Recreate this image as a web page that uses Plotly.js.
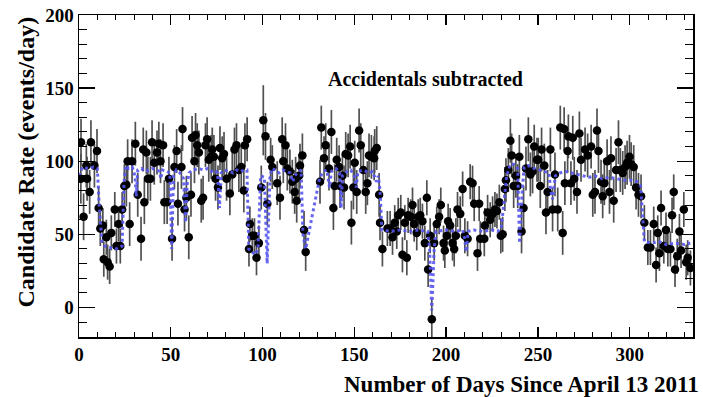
<!DOCTYPE html>
<html>
<head>
<meta charset="utf-8">
<script src="https://cdn.plot.ly/plotly-3.0.1.min.js"></script>
<style>html,body{margin:0;padding:0;background:#fff;}#chart{width:703px;height:397px;}</style>
</head>
<body>
<div id="chart"></div>
<script>
// Daily candidate rate (accidentals subtracted)
const days = [
1.0,1.1,2.5,4.0,4.4,5.8,6.5,8.4,9.8,10.7,
11.6,13.0,13.5,14.9,15.6,16.7,17.6,19.5,20.4,21.6,22.5,23.5,
24.7,25.8,26.5,27.6,28.9,30.7,32.0,33.8,35.0,35.6,36.7,37.5,38.9,39.8,41.0,42.5,43.5,44.4,45.8,46.5,48.0,49.0,50.7,52.0,53.2,53.9,
55.8,56.4,57.5,58.5,59.8,61.0,61.6,62.9,63.5,64.4,65.3,66.6,67.6,68.9,69.8,70.7,72.0,72.6,73.5,74.4,75.7,76.8,78.0,79.0,80.4,82.2,83.5,84.7,85.8,87.1,88.4,89.8,90.4,91.6,
92.6,93.1,94.4,95.6,96.7,98.0,
99.3,100.4,101.6,102.6,104.4,105.3,108.0,109.5,110.7,111.3,112.5,113.5,114.9,116.2,117.5,118.0,118.6,119.9,120.4,121.7,
122.6,123.5,
131.3,132.0,133.5,134.4,136.2,137.5,138.6,139.3,140.4,141.7,142.2,143.5,144.4,145.3,146.6,147.7,148.4,149.5,150.2,151.3,152.6,153.5,154.9,156.2,157.1,158.0,159.3,160.8,161.1,162.2,163.5,
164.0,165.3,168.0,169.5,170.8,172.0,173.1,173.9,175.3,176.2,177.5,178.6,179.3,180.7,181.7,182.6,184.0,184.8,185.9,187.1,188.4,189.5,190.2,191.3,192.2,193.5,194.9,196.2,197.1,198.6,199.3,200.4,201.1,202.2,203.5,204.4,205.3,206.2,207.7,209.0,210.2,211.7,213.1,214.4,215.3,217.1,218.0,218.6,
220.8,221.1,222.6,224.0,225.3,226.6,227.7,229.0,229.8,230.8,
232.0,232.6,233.9,235.0,235.7,236.8,238.0,239.0,239.9,241.1,242.2,243.5,244.8,245.9,247.1,248.0,249.5,250.2,251.3,252.0,253.5,254.4,255.3,256.8,258.0,259.3,260.8,262.2,263.5,264.3,264.7,266.2,266.6,268.0,269.0,269.8,271.3,272.6,273.5,
275.7,277.1,279.0,279.9,281.1,282.2,283.0,284.4,285.3,286.2,287.7,289.0,289.8,291.3,292.6,293.9,294.9,296.2,297.5,298.6,299.9,300.8,302.2,303.5,304.8,306.2,
308.0,309.9,311.3,313.1,314.4,315.3,316.2,317.1,318.6,319.8,320.8,322.2,323.1,324.0,324.7,325.9,327.1,328.0,329.5,330.8,331.6,333.1
];
const rates = [
88,113,62,97,88,79,113,97,107,68,
54,56,33,48,31,28,51,67,42,57,42,67,
83,84,100,57,100,112,77,47,108,72,106,88,88,113,99,106,112,100,111,72,72,88,47,96,107,71,
96,122,67,75,48,77,116,100,118,111,106,73,75,111,115,101,103,108,103,88,82,109,102,105,88,78,91,108,111,94,96,80,111,115,
40,57,49,49,34,44,
82,128,117,71,101,96,85,75,115,100,111,95,93,86,79,88,73,90,97,104,
53,38,
86,123,102,111,95,120,68,83,101,96,83,90,82,105,104,110,58,82,99,79,121,111,94,79,85,104,103,102,107,109,77,
58,40,54,54,48,58,52,63,65,36,58,34,63,62,70,57,51,62,63,59,44,75,26,49,-8,44,57,62,70,44,39,49,59,56,44,40,49,67,64,81,49,47,86,85,71,37,71,47,
47,56,65,60,64,67,66,72,49,50,
81,87,94,114,104,83,90,83,103,52,68,95,115,91,93,110,101,101,83,108,97,65,79,108,67,91,67,123,51,122,85,107,117,85,116,88,79,119,101,
108,104,110,77,79,121,107,86,76,85,100,79,102,73,94,113,94,92,96,99,103,98,96,82,77,76,
58,41,41,57,29,51,37,68,42,53,40,40,63,79,26,35,52,39,67,31,34,27
];
const rateErrors = [
17,16,16,15,15,15,15,15,15,15,
12,12,12,12,12,12,12,12,12,12,12,12,
15,15,15,15,15,15,15,15,15,15,15,15,15,15,15,15,15,15,15,15,15,15,15,15,15,15,
15,15,15,15,15,15,15,15,15,15,15,15,15,15,15,15,15,15,15,15,15,15,15,15,15,15,15,15,15,15,15,15,15,15,
12,12,12,12,12,12,
15,24,16,15,15,15,15,15,15,15,15,15,15,15,15,15,15,15,15,15,
13,13,
15,15,15,15,15,15,15,15,15,15,15,15,15,15,15,15,15,15,15,15,15,15,15,15,15,15,15,15,15,15,15,
12,12,12,12,12,12,12,12,12,12,12,12,12,12,12,12,12,12,12,12,12,12,12,12,14,12,12,12,12,12,12,12,12,12,12,12,12,12,12,12,12,12,12,12,12,12,12,12,
12,12,12,12,12,12,12,12,12,12,
15,15,15,15,15,15,15,15,15,15,15,15,15,15,15,15,15,15,15,15,15,15,15,15,15,15,15,15,15,15,15,15,15,15,15,15,15,15,15,
15,15,15,15,15,15,15,15,15,15,15,15,15,15,15,15,15,15,15,15,15,15,15,15,15,15,
12,12,12,12,12,12,12,12,12,12,12,12,12,12,12,12,12,12,12,12,12,12
];
// Expected rate (blue dashed curve)
const expDays = [0,2,5,8,10,11,12.5,14,17,20,22,23.5,24.5,25.5,27,29,30.5,31.2,32,34,36,38,40,42,44,44.5,45.5,48,49.5,50.5,51.5,53,55,57,58,59,60,62,65,68,70,72,74,75.5,76.5,77.5,79,82,84,86,88,90,91.5,92.5,94,96,97.5,99,101,102.5,104,105,107,109,111,113,115,116.5,117.5,119,121,122,123.5,131,133,135,136.5,137.5,140,142,142.8,143.5,146,148,150,151,152,155,158,160,162,163,164,165,170,175,180,185,190,191,192.2,193.5,194.5,200,205,209,210,211,212,215,220,225,228,230,231.5,233,235,237,239,240,241.5,242.5,245,248,251,254,256,257,258,259.5,262,265,268,272,275,278,281,285,289,293,297,301,304,306,307,308,312,316,320,325,330,333];
const expRates = [90,96,95,96,95,70,45,42,41,40,41,42,85,97,95,96,90,76,94,95,93,94,95,94,93,88,94,93,92,40,90,94,92,88,58,85,92,94,95,94,95,93,94,92,68,92,94,93,92,94,93,94,94,40,38,36,40,90,89,30,88,95,94,92,94,93,92,86,90,92,94,50,40,88,93,94,82,93,95,92,68,90,93,94,90,82,93,94,92,93,86,90,80,53,52,53,52,53,52,40,-2,40,52,53,52,53,48,38,52,53,52,53,52,54,70,90,98,98,95,44,80,96,97,95,94,93,92,80,74,90,92,93,92,91,90,89,90,88,89,88,87,87,86,83,60,45,44,45,43,44,43,44];

const serif = 'Liberation Serif, Times New Roman, serif';

const traces = [
  {
    x: days, y: rates, type: 'scatter', mode: 'markers',
    marker: {color: 'black', size: 8.5},
    error_y: {type: 'data', array: rateErrors, visible: true, color: '#505050', thickness: 1.7, width: 0},
    hoverinfo: 'skip'
  },
  {
    x: expDays, y: expRates, type: 'scatter', mode: 'lines',
    line: {color: 'rgba(85,85,240,0.9)', width: 3, dash: 'dot'},
    hoverinfo: 'skip'
  }
];

const axisCommon = {
  showline: true, linecolor: 'black', linewidth: 1.5, mirror: 'ticks',
  ticks: 'inside', tickcolor: 'black', tickwidth: 1.3,
  showgrid: false, zeroline: false,
  tickfont: {family: serif, size: 19, color: 'black', weight: 'bold'}
};

const layout = {
  width: 703, height: 397,
  margin: {l: 79, r: 10, t: 15, b: 60},
  paper_bgcolor: 'white', plot_bgcolor: 'white',
  showlegend: false,
  xaxis: Object.assign({}, axisCommon, {
    range: [0, 334.5], tick0: 0, dtick: 50, ticklen: 10,
    minor: {dtick: 10, ticks: 'inside', ticklen: 5, tickcolor: 'black', tickwidth: 1}
  }),
  yaxis: Object.assign({}, axisCommon, {
    range: [-20.2, 200], tick0: 0, dtick: 50, ticklen: 16,
    minor: {dtick: 10, ticks: 'inside', ticklen: 8, tickcolor: 'black', tickwidth: 1}
  }),
  annotations: [
    {text: 'Accidentals subtracted', xref: 'paper', yref: 'paper', x: 0.565, y: 0.842,
     showarrow: false, font: {family: serif, size: 20, color: 'black', weight: 'bold'}},
    {text: 'Number of Days Since April 13 2011', xref: 'paper', yref: 'paper', x: 1, y: 0,
     xanchor: 'right', yanchor: 'middle', xshift: 8, yshift: -47, showarrow: false,
     font: {family: serif, size: 23, color: 'black', weight: 'bold'}},
    {text: 'Candidate Rate (events/day)', xref: 'paper', yref: 'paper', x: 0, y: 1,
     xanchor: 'center', yanchor: 'top', xshift: -54, textangle: -90, showarrow: false,
     font: {family: serif, size: 24, color: 'black', weight: 'bold'}}
  ]
};

Plotly.newPlot('chart', traces, layout, {staticPlot: true, displayModeBar: false});
</script>
</body>
</html>
